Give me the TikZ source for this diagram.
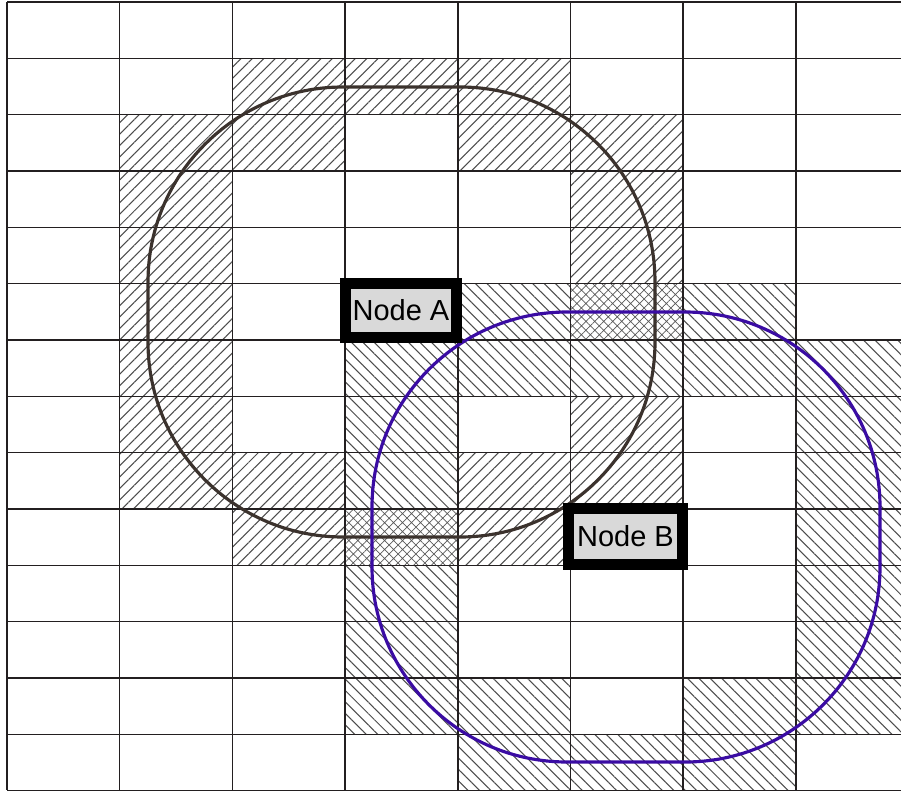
\documentclass[tikz,border=0pt]{standalone}
\usepackage{fontspec}
\setmainfont{Liberation Sans}
\usetikzlibrary{
  patterns.meta, % Für die Schraffuren
}

\definecolor{brownA}{HTML}{3B322D}
\definecolor{violetB}{HTML}{3A0CA3}
\definecolor{gridcol}{HTML}{231F20}

\begin{document}
\begin{tikzpicture}[
    x=0.02cm, y=-0.02cm, % Pixelraster, y nach unten
    gridline/.style={line width=0.85pt, gridcol}, % Rasterlinien
    ahatch/.style={pattern={Lines[angle=45, distance=4.6pt, line width=0.6pt]}, pattern color=black!70},
    bhatch/.style={pattern={Lines[angle=-45, distance=4.6pt, line width=0.6pt]}, pattern color=black!70},
    xhatch/.style={pattern={Hatch[angle=45, distance=3.6pt, line width=0.4pt]}, pattern color=black!65},
    loopA/.style={line width=1.8pt, draw=brownA, rounded corners=3.9cm},
    loopB/.style={line width=1.8pt, draw=violetB, rounded corners=3.9cm},
    knoten/.style={draw=black, fill=gray!30, line width=6pt, inner sep=0pt,
      font=\fontsize{16.5}{18}\selectfont},
  ]

    % Größen
    \def\cw{112.7}
    \def\rh{56.33}

    \useasboundingbox (0,0) rectangle (901,791);
    \clip (0,0) rectangle (901,791);

    % Zellen um Knoten A
    \foreach \c/\r in {2/1, 3/1, 4/1, 1/2, 2/2, 4/2, 5/2, 1/3, 5/3, 1/4, 5/4,
                       1/5, 1/6, 1/7, 5/7, 1/8, 2/8, 4/8, 5/8, 2/9, 4/9}
    \fill[ahatch] ({7+\cw*\c},{2+\rh*\r}) rectangle ++(\cw,\rh);

    % Zellen um Knoten B
    \foreach \c/\r in {4/5, 6/5, 3/6, 4/6, 5/6, 6/6, 7/6, 3/7, 7/7, 3/8, 7/8, 7/9,
                       3/10, 7/10, 3/11, 7/11, 3/12, 4/12, 6/12, 7/12, 4/13, 5/13, 6/13}
    \fill[bhatch] ({7+\cw*\c},{2+\rh*\r}) rectangle ++(\cw,\rh);

    % Überlappung
    \foreach \c/\r in {5/5, 3/9}
    \fill[xhatch] ({7+\cw*\c},{2+\rh*\r}) rectangle ++(\cw,\rh);

    % Raster
    \foreach \i in {0,...,7}
    \draw[gridline] ({7+\cw*\i},2) -- ({7+\cw*\i},790);
    \foreach \j in {0,...,14}
    \draw[gridline] (7,{2+\rh*\j}) -- (901,{2+\rh*\j});

    % Bereiche
    \draw[loopA] (148,87) rectangle (655,537);
    \draw[loopB] (372,312) rectangle (880,762);

    % Knoten
    \node[knoten, minimum width=2.22cm, minimum height=1.08cm] (nodeA) at (401,310.5) {Node A};
    \node[knoten, minimum width=2.28cm, minimum height=1.12cm] (nodeB) at (625.5,536.5) {Node B};
  \end{tikzpicture}
\end{document}
